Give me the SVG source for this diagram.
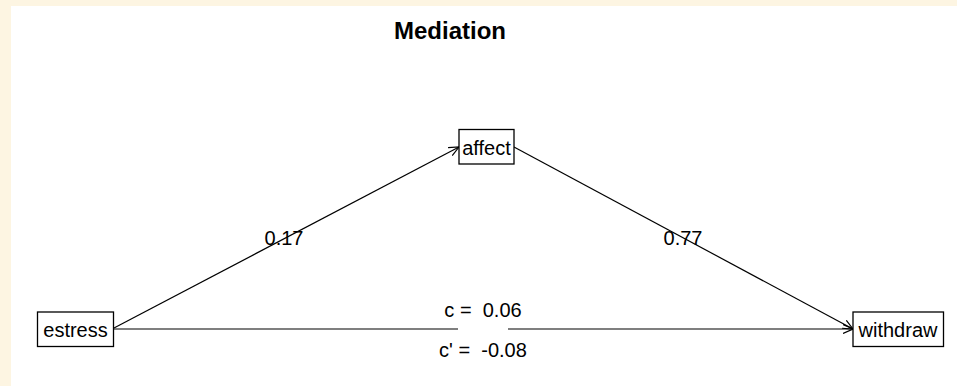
<svg xmlns="http://www.w3.org/2000/svg" width="957" height="386" viewBox="0 0 957 386">
<defs>
<style>
.box{fill:#fff;stroke:#000;stroke-width:1.3}
.t{font-family:"Liberation Sans",Arial,sans-serif;font-size:20px;fill:#000;text-anchor:middle}
.ln{stroke:#000;stroke-width:1.2;fill:none}
</style>
<marker id="ah" viewBox="0 0 10 10" refX="10" refY="5" markerWidth="10" markerHeight="10" markerUnits="userSpaceOnUse" orient="auto">
<path d="M0,0.5 L10,5 L0,9.5" fill="none" stroke="#000" stroke-width="1.2"/>
</marker>
</defs>
<rect x="0" y="0" width="957" height="386" fill="#fdf5e2"/>
<rect x="11" y="6" width="946" height="380" fill="#ffffff"/>
<text x="450" y="39" class="t" style="font-weight:bold;font-size:24px">Mediation</text>
<g id="connectors">
<line class="ln" x1="114" y1="328" x2="459" y2="147" marker-end="url(#ah)"/>
<line class="ln" x1="514" y1="147" x2="853" y2="329" marker-end="url(#ah)"/>
<line class="ln" x1="114" y1="329" x2="458" y2="329"/>
<line class="ln" x1="508" y1="329" x2="853" y2="329" marker-end="url(#ah)"/>
<text x="284" y="245" class="t">0.17</text>
<text x="683" y="245" class="t">0.77</text>
<text x="483" y="317" class="t" xml:space="preserve">c =  0.06</text>
<text x="483" y="357" class="t" xml:space="preserve">c' =  -0.08</text>
</g>
<g id="affect">
<rect class="box" x="459" y="129.5" width="55" height="34.5"/>
<text x="486.5" y="155" class="t">affect</text>
</g>
<g id="estress">
<rect class="box" x="37.5" y="312" width="76" height="34.5"/>
<text x="75.5" y="337" class="t">estress</text>
</g>
<g id="withdraw">
<rect class="box" x="853" y="312" width="90.5" height="34.5"/>
<text x="898" y="337" class="t">withdraw</text>
</g>
</svg>
